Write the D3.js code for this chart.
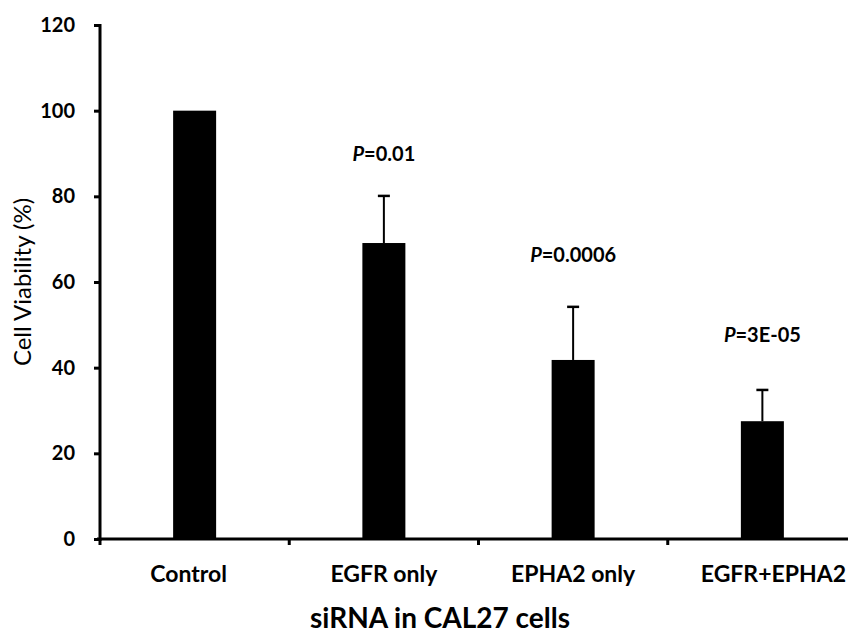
<!DOCTYPE html>
<html>
<head>
<meta charset="utf-8">
<script src="https://cdn.jsdelivr.net/npm/d3@7"></script>
<style>
  html, body { margin: 0; padding: 0; background: #fff; }
  svg { display: block; }
  text { font-family: Lato, "Open Sans", sans-serif; fill: #000; }
</style>
</head>
<body>
<script>
// Cell viability after siRNA knockdown in CAL27 cells
const categories = ["Control", "EGFR only", "EPHA2 only", "EGFR+EPHA2"];
const viability = [100, 69.1, 41.8, 27.5];
const errors = [null, 11.0, 12.4, 7.3];
const pLabels = [null, "0.01", "0.0006", "3E-05"];
const pLabelLevel = [null, 88.3, 64.7, 46.0];   // baseline height of each P annotation, in % units
const yTicks = [0, 20, 40, 60, 80, 100, 120];

const W = 848, H = 633;
const svg = d3.select("body").append("svg").attr("width", W).attr("height", H);

const x = d3.scaleBand().domain(categories).range([100, 857]).padding(0);
const y = d3.scaleLinear().domain([0, 120]).range([539, 25]);
const barW = 43;
const cx = d => x(d) + x.bandwidth() / 2;

// bars
svg.selectAll("rect.bar").data(categories).join("rect")
  .attr("class", "bar")
  .attr("x", d => cx(d) - barW / 2)
  .attr("y", (d, i) => y(viability[i]))
  .attr("width", barW)
  .attr("height", (d, i) => y(0) - y(viability[i]))
  .attr("fill", "#000");

// error bars (upper only)
const errData = categories.map((c, i) => ({ c, v: viability[i], e: errors[i] })).filter(d => d.e != null);
const eb = svg.selectAll("g.err").data(errData).join("g").attr("class", "err");
eb.append("line")
  .attr("x1", d => cx(d.c)).attr("x2", d => cx(d.c))
  .attr("y1", d => y(d.v)).attr("y2", d => y(d.v + d.e))
  .attr("stroke", "#000").attr("stroke-width", 2);
eb.append("line")
  .attr("x1", d => cx(d.c) - 6).attr("x2", d => cx(d.c) + 6)
  .attr("y1", d => y(d.v + d.e)).attr("y2", d => y(d.v + d.e))
  .attr("stroke", "#000").attr("stroke-width", 2.5);

// p-value annotations
const pData = categories.map((c, i) => ({ c, p: pLabels[i], lvl: pLabelLevel[i] })).filter(d => d.p);
const pt = svg.selectAll("text.p").data(pData).join("text")
  .attr("class", "p")
  .attr("x", d => cx(d.c))
  .attr("y", d => y(d.lvl))
  .attr("text-anchor", "middle")
  .attr("font-size", 20)
  .attr("font-weight", 700);
pt.append("tspan").attr("font-style", "italic").text("P");
pt.append("tspan").text(d => "=" + d.p);

// y axis
const yAxis = d3.axisLeft(y).tickValues(yTicks).tickSize(6).tickPadding(19).tickFormat(d3.format("d"));
const gy = svg.append("g").attr("transform", "translate(100,0)").call(yAxis);
gy.select(".domain").remove();
gy.selectAll(".tick line").attr("stroke", "#000").attr("stroke-width", 3);
gy.selectAll(".tick text").attr("font-size", 20).attr("font-weight", 700).attr("fill", "#000");
svg.append("line").attr("x1", 100).attr("x2", 100).attr("y1", y(120) - 1).attr("y2", y(0) + 2)
  .attr("stroke", "#000").attr("stroke-width", 3);

// x axis line with boundary ticks
svg.append("line").attr("x1", 97).attr("x2", W).attr("y1", y(0)).attr("y2", y(0))
  .attr("stroke", "#000").attr("stroke-width", 3);
svg.selectAll("line.xt").data(categories).join("line")
  .attr("class", "xt")
  .attr("x1", d => x(d)).attr("x2", d => x(d))
  .attr("y1", y(0)).attr("y2", y(0) + 6)
  .attr("stroke", "#000").attr("stroke-width", 3);

// category labels
svg.selectAll("text.cat").data(categories).join("text")
  .attr("class", "cat")
  .attr("x", (d, i) => cx(d) + [-6, 0, 0, 11][i])
  .attr("y", 582)
  .attr("text-anchor", "middle")
  .attr("font-size", 23)
  .attr("font-weight", 700)
  .text(d => d);

// axis titles
svg.append("text").attr("x", 440).attr("y", 628).attr("text-anchor", "middle")
  .attr("font-size", 28).attr("font-weight", 700).text("siRNA in CAL27 cells");
svg.append("text").attr("transform", "translate(31,282) rotate(-90)").attr("text-anchor", "middle")
  .attr("font-size", 24).text("Cell Viability (%)");
</script>
</body>
</html>
